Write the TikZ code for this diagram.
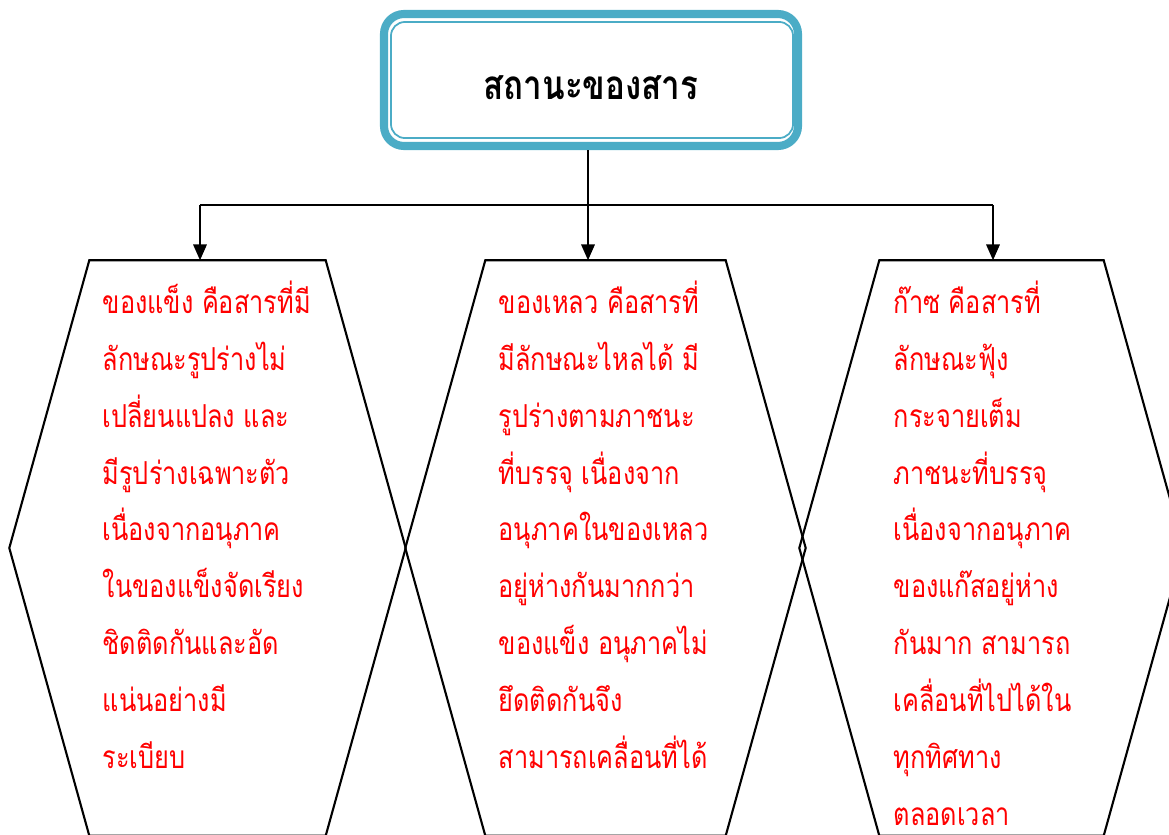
\documentclass[tikz,border=0pt]{standalone}
\usepackage{fontspec}
\usepackage{xcolor}
\usepackage{tikz}
\usetikzlibrary{arrows.meta, calc, positioning, shapes}
\newfontfamily\thaifont[Script=Thai, FakeStretch=0.8]{Loma}
\newfontfamily\thaititle[Script=Thai, FakeStretch=0.82]{Loma}
\definecolor{titleblue}{RGB}{75,172,198}
\definecolor{textred}{RGB}{255,0,0}
\tikzset{
  titlebox/.style={draw=titleblue, line width=2.3pt, rounded corners=0.2cm, fill=white,
    minimum width=4.14cm, minimum height=1.32cm},
  titletext/.style={font=\thaititle\bfseries\fontsize{11.5pt}{13pt}\selectfont},
  statebox/.style={minimum width=2.35cm, minimum height=5.74cm, inner sep=0pt},
  statetext/.style={anchor=north west, align=left, inner sep=0pt, text=textred,
    font=\thaifont\fontsize{9pt}{16.2pt}\selectfont},
}
\tikzstyle{arrow} = [line width=0.6pt,-{Triangle[length=4.5pt,width=3.8pt]}]
\tikzstyle{hexline} = [line width=0.6pt]

\begin{document}
\begin{tikzpicture}
  \useasboundingbox (0,0) rectangle (11.69,-8.34);
  \clip (0,0) rectangle (11.69,-8.34);

  % title
  \node[titlebox] (title) at (5.91,-0.80) {};
  \draw[titleblue, line width=0.5pt, rounded corners=0.14cm]
    ([shift={(0.11,-0.12)}]title.north west) rectangle ([shift={(-0.09,0.12)}]title.south east);
  \node[titletext] (titlename) at ([yshift=-0.08cm]title.center) {สถานะของสาร};

  % the three states
  \node[statebox] (solid) at (2.075,-5.48) {};
  \node[statebox, minimum width=2.39cm] (liquid) at (6.055,-5.48) {};
  \node[statebox, minimum width=2.23cm] (gas) at (9.915,-5.48) {};

  \foreach \n in {solid, liquid, gas}
    \draw[hexline] (\n.north west) -- (\n.north east) -- ($(\n.east)+(0.8,0)$)
      -- (\n.south east) -- (\n.south west) -- ($(\n.west)+(-0.8,0)$) -- cycle;

  \node[statetext] (solidtext) at (1.02,-2.80) {ของแข็ง คือสารที่มี\\ลักษณะรูปร่างไม่\\เปลี่ยนแปลง และ\\มีรูปร่างเฉพาะตัว\\เนื่องจากอนุภาค\\ในของแข็งจัดเรียง\\ชิดติดกันและอัด\\แน่นอย่างมี\\ระเบียบ};
  \node[statetext] (liquidtext) at (4.98,-2.80) {ของเหลว คือสารที่\\มีลักษณะไหลได้ มี\\รูปร่างตามภาชนะ\\ที่บรรจุ เนื่องจาก\\อนุภาคในของเหลว\\อยู่ห่างกันมากกว่า\\ของแข็ง อนุภาคไม่\\ยึดติดกันจึง\\สามารถเคลื่อนที่ได้};
  \node[statetext] (gastext) at (8.93,-2.80) {ก๊าซ คือสารที่\\ลักษณะฟุ้ง\\กระจายเต็ม\\ภาชนะที่บรรจุ\\เนื่องจากอนุภาค\\ของแก๊สอยู่ห่าง\\กันมาก สามารถ\\เคลื่อนที่ไปได้ใน\\ทุกทิศทาง\\ตลอดเวลา};

  % connectors
  \coordinate (busL) at (2.00,-2.05);
  \coordinate (busM) at (5.88,-2.05);
  \coordinate (busR) at (9.93,-2.05);
  \draw[hexline] (busL) -- (busR);
  \draw[hexline] (title.south -| busM) -- (busM);
  \draw[arrow] (busM) -- (busM |- liquid.north);
  \draw[arrow] (busL) -- (busL |- solid.north);
  \draw[arrow] (busR) -- (busR |- gas.north);
\end{tikzpicture}
\end{document}
